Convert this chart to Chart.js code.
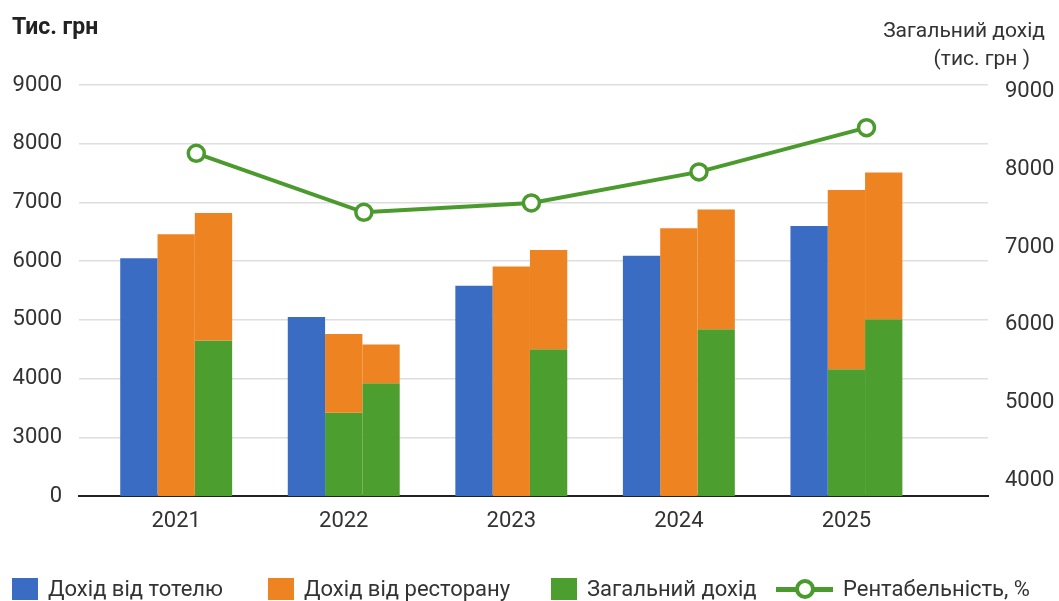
<!DOCTYPE html>
<html lang="uk">
<head>
<meta charset="utf-8">
<title>Дохід готелю та ресторану</title>
<script src="https://cdn.jsdelivr.net/npm/chart.js@4.4.1/dist/chart.umd.min.js"></script>
<style>
  body { margin: 0; background: #fff; font-family: Roboto, "Noto Sans", sans-serif; color: #333; }
  .wrap { position: relative; width: 1059px; height: 601px; overflow: hidden; }
  .title-left { position: absolute; left: 12px; top: 13px; font-size: 23px; font-weight: 700; color: #222; }
  .title-right { position: absolute; right: 14px; top: 16px; font-size: 21px; line-height: 28px; text-align: right; color: #333; }
  .title-right span { display: block; padding-right: 15px; }
  #legend { position: absolute; left: 0; top: 576px; width: 1059px; height: 24px; font-size: 22px; color: #333; }
  .item { position: absolute; top: 0; display: flex; align-items: center; gap: 10px; white-space: nowrap; }
  .mark-box { width: 26px; height: 22px; display: inline-block; }
  .mark-line { position: relative; width: 57px; height: 22px; display: inline-block; }
  .mark-line::before { content: ""; position: absolute; left: 0; right: 0; top: 9px; height: 5px; background: var(--c); }
  .mark-line i { position: absolute; left: 19px; top: 1px; width: 12px; height: 12px; border: 4px solid var(--c); border-radius: 50%; background: #fff; }
</style>
</head>
<body>
<div class="wrap">
  <canvas id="chart"></canvas>
  <div class="title-left">Тис. грн</div>
  <div class="title-right">Загальний дохід<span>(тис. грн )</span></div>
  <div id="legend"></div>
</div>
<script>
const years = [2021, 2022, 2023, 2024, 2025];
const hotel = [6050, 5050, 5580, 6090, 6600];
const restaurant = [6460, 4760, 5910, 6560, 7210];
const restaurantGreen = [null, 3420, null, null, 4160];
const combined = [6820, 4580, 6190, 6880, 7510];
const combinedGreen = [4650, 3920, 4500, 4840, 5010];
const profitability = [8210, 7450, 7570, 7970, 8540];
const leftTicks = [2000, 3000, 4000, 5000, 6000, 7000, 8000, 9000];
const rightTicks = [4000, 5000, 6000, 7000, 8000, 9000];

const BLUE = "#3b6cc4";
const ORANGE = "#ee8322";
const GREEN = "#4c9e2e";
const LINE = "#4b9a2d";
const lineShift = 0.12;
const legendLeft = [12, 268, 551, 776];

// legend drawn as html under the canvas
const htmlLegend = {
  id: "htmlLegend",
  afterUpdate(chart) {
    const box = document.getElementById("legend");
    box.innerHTML = "";
    let n = 0;
    chart.data.datasets.forEach((ds) => {
      if (ds.hideInLegend) return;
      const item = document.createElement("div");
      item.className = "item";
      item.style.left = legendLeft[n++] + "px";
      const mark = document.createElement("span");
      if (ds.type === "line") {
        mark.className = "mark-line";
        mark.style.setProperty("--c", ds.borderColor);
        mark.appendChild(document.createElement("i"));
      } else {
        mark.className = "mark-box";
        mark.style.background = ds.backgroundColor;
      }
      const text = document.createElement("span");
      text.textContent = ds.label;
      item.appendChild(mark);
      item.appendChild(text);
      box.appendChild(item);
    });
  },
};

const tickFont = { family: "Roboto", size: 22 };

new Chart(document.getElementById("chart"), {
  type: "bar",
  data: {
    labels: years,
    datasets: [
      {
        label: "Дохід від тотелю",
        data: hotel,
        backgroundColor: BLUE,
        stack: "a",
        order: 2,
      },
      {
        label: "Дохід від ресторану",
        data: restaurant.map((v, i) => (restaurantGreen[i] ? [restaurantGreen[i], v] : v)),
        backgroundColor: ORANGE,
        stack: "b",
        order: 2,
      },
      {
        label: "Загальний дохід (ресторан)",
        data: restaurantGreen,
        backgroundColor: GREEN,
        stack: "b",
        hideInLegend: true,
        order: 2,
      },
      {
        label: "Дохід від ресторану (разом)",
        data: combined.map((v, i) => [combinedGreen[i], v]),
        backgroundColor: ORANGE,
        stack: "c",
        hideInLegend: true,
        order: 2,
      },
      {
        label: "Загальний дохід",
        data: combinedGreen,
        backgroundColor: GREEN,
        stack: "c",
        order: 2,
      },
      {
        type: "line",
        label: "Рентабельність, %",
        data: years.map((y, i) => ({ x: y + lineShift, y: profitability[i] })),
        yAxisID: "y1",
        borderColor: LINE,
        borderWidth: 4,
        pointRadius: 8,
        pointBorderWidth: 3.5,
        pointBackgroundColor: "#fff",
        pointBorderColor: LINE,
        tension: 0,
        order: 1,
      },
    ],
  },
  options: {
    responsive: true,
    maintainAspectRatio: false,
    animation: false,
    categoryPercentage: 0.668,
    barPercentage: 1,
    layout: { padding: { top: 85, left: 0, right: 0, bottom: 0 } },
    plugins: {
      legend: { display: false },
      tooltip: { enabled: false },
    },
    scales: {
      x: {
        type: "linear",
        min: 2020.42,
        max: 2025.845,
        offset: false,
        stacked: true,
        grid: { display: false, drawTicks: false, offset: false },
        border: { display: true, color: "#222", width: 2 },
        afterBuildTicks: (scale) => {
          scale.ticks = years.map((v) => ({ value: v }));
        },
        afterFit: (scale) => {
          scale.height = 105;
        },
        ticks: {
          font: tickFont,
          color: "#333",
          padding: 12,
          callback: (v) => String(v),
        },
      },
      y: {
        position: "left",
        min: 2000,
        max: 9000,
        stacked: false,
        grid: { color: "#dedede", lineWidth: 1.5, drawTicks: false },
        border: { display: false },
        afterBuildTicks: (scale) => {
          scale.ticks = leftTicks.map((v) => ({ value: v }));
        },
        afterFit: (scale) => {
          scale.width = 79;
        },
        ticks: {
          font: tickFont,
          color: "#333",
          padding: 17,
          // axis is broken: the lowest line stands for zero
          callback: (v) => (v === 2000 ? "0" : String(v)),
        },
      },
      y1: {
        position: "right",
        min: 3794,
        max: 9090,
        grid: { display: false, drawTicks: false },
        border: { display: false },
        afterBuildTicks: (scale) => {
          scale.ticks = rightTicks.map((v) => ({ value: v }));
        },
        afterFit: (scale) => {
          scale.width = 71;
        },
        ticks: {
          font: tickFont,
          color: "#333",
          padding: 17,
          callback: (v) => String(v),
        },
      },
    },
  },
  plugins: [htmlLegend],
});
</script>
</body>
</html>
